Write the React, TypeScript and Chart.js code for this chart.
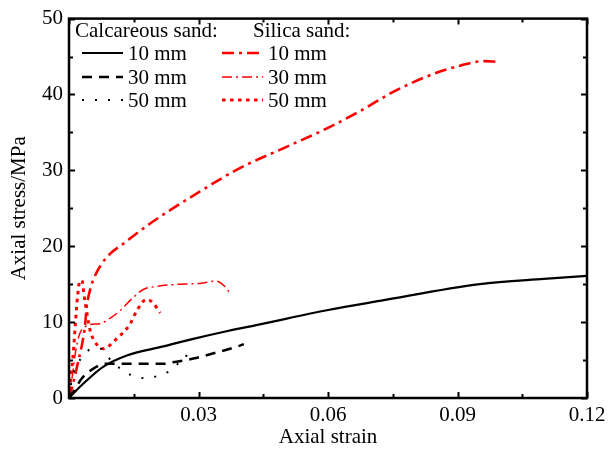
import React, { useEffect, useRef } from "react";
import { Chart, registerables } from "chart.js";

Chart.register(...registerables);

const FONT = "'Liberation Serif', 'Times New Roman', serif";
const FS = 21;

// Calcareous sand
const strainCal10 = [0, 0.001, 0.0041, 0.0079, 0.0134, 0.0211, 0.0288, 0.0365, 0.0442, 0.06, 0.072, 0.0952, 0.11, 0.12];
const stressCal10 = [0, 0.6, 2.3, 4.1, 5.6, 6.7, 7.8, 8.8, 9.7, 11.6, 12.8, 15.0, 15.7, 16.1];
const strainCal30 = [0, 0.001, 0.003, 0.006, 0.0081, 0.0118, 0.0218, 0.024, 0.0288, 0.0342, 0.0396, 0.0405];
const stressCal30 = [0, 0.8, 2.6, 4.0, 4.5, 4.5, 4.5, 4.7, 5.2, 6.0, 6.9, 7.1];
const strainCal50 = [0, 0.0007, 0.002, 0.0034, 0.0053, 0.0073, 0.009, 0.0118, 0.0145, 0.018, 0.021, 0.0234, 0.026, 0.0268, 0.0275];
const stressCal50 = [0, 2.6, 4.5, 5.6, 6.5, 6.5, 5.4, 3.9, 3.0, 2.6, 3.0, 3.6, 5.0, 5.6, 5.5];

// Silica sand
const strainSil10 = [0, 0.001, 0.002, 0.003, 0.0037, 0.0041, 0.005, 0.0061, 0.0076, 0.0095, 0.0125, 0.0188, 0.03, 0.0396, 0.05, 0.06, 0.0674, 0.075, 0.083, 0.0906, 0.096, 0.0994];
const stressSil10 = [0, 2, 4.5, 7, 9.5, 12, 14.5, 16.2, 17.7, 19, 20.3, 23, 27.1, 30.3, 33, 35.6, 37.8, 40.3, 42.4, 43.8, 44.4, 44.3];
const strainSil30 = [0, 0.0008, 0.0015, 0.0025, 0.004, 0.0049, 0.0072, 0.0095, 0.0118, 0.0148, 0.0172, 0.0203, 0.0257, 0.0303, 0.0342, 0.0361, 0.0373];
const stressSil30 = [0, 3, 6, 8.5, 9.5, 9.7, 9.8, 10.5, 11.5, 13.2, 14.3, 14.7, 15.0, 15.1, 15.4, 14.7, 13.8];
const strainSil50 = [0, 0.0005, 0.001, 0.0015, 0.002, 0.0025, 0.003, 0.0035, 0.0042, 0.0049, 0.0065, 0.0079, 0.011, 0.0141, 0.0157, 0.018, 0.0195, 0.0211];
const stressSil50 = [0, 3, 6, 10, 13.5, 15.4, 15.5, 13.5, 11, 8.9, 7, 6.5, 7.8, 9.7, 11.5, 13, 12.5, 11.2];

const groupTitles = ["Calcareous sand:", "Silica sand:"];
const sizeLabels = ["10 mm", "30 mm", "50 mm"];

const xTicks = [0, 0.03, 0.06, 0.09, 0.12];
const yTicks = [0, 10, 20, 30, 40, 50];

const pts = (xs: number[], ys: number[]) => xs.map((x, i) => ({ x, y: ys[i] }));

const styles = [
  { color: "#000000", width: 2.2, dash: [] as number[] },
  { color: "#000000", width: 2.5, dash: [10, 7] },
  { color: "#000000", width: 2, dash: [2, 11] },
  { color: "#ff0000", width: 2.6, dash: [12, 5, 3, 5] },
  { color: "#ff0000", width: 1.5, dash: [10, 4, 2, 4] },
  { color: "#ff0000", width: 3, dash: [3.5, 4.5] },
];

const series = [
  pts(strainCal10, stressCal10),
  pts(strainCal30, stressCal30),
  pts(strainCal50, stressCal50),
  pts(strainSil10, stressSil10),
  pts(strainSil30, stressSil30),
  pts(strainSil50, stressSil50),
];

const framePlugin = {
  id: "frameTicks",
  afterDatasetsDraw(chart: any) {
    const { ctx, chartArea: a, scales } = chart;
    const xs = scales.x;
    const ys = scales.y;
    ctx.save();
    ctx.strokeStyle = "#000";
    ctx.setLineDash([]);
    ctx.lineWidth = 2;
    for (let v = 0; v <= 0.12 + 1e-9; v += 0.015) {
      const major = Math.abs(v / 0.03 - Math.round(v / 0.03)) < 1e-6;
      const len = major ? 6 : 4;
      const px = Math.round(xs.getPixelForValue(v)) + 0.5;
      ctx.beginPath();
      ctx.moveTo(px, a.bottom);
      ctx.lineTo(px, a.bottom - len);
      ctx.moveTo(px, a.top);
      ctx.lineTo(px, a.top + len);
      ctx.stroke();
    }
    for (let v = 0; v <= 50 + 1e-9; v += 5) {
      const major = v % 10 === 0;
      const len = major ? 6 : 4;
      const py = Math.round(ys.getPixelForValue(v)) + 0.5;
      ctx.beginPath();
      ctx.moveTo(a.left, py);
      ctx.lineTo(a.left + len, py);
      ctx.moveTo(a.right, py);
      ctx.lineTo(a.right - len, py);
      ctx.stroke();
    }
    ctx.lineWidth = 2.5;
    ctx.strokeRect(a.left, a.top, a.right - a.left, a.bottom - a.top);

    // legend
    ctx.font = `${FS}px ${FONT}`;
    ctx.fillStyle = "#000";
    ctx.textBaseline = "middle";
    ctx.textAlign = "left";
    const cols = [
      { title: 75, lineX0: 82, lineX1: 123, text: 128 },
      { title: 253, lineX0: 222, lineX1: 263, text: 268 },
    ];
    const rowsY = [53, 77, 100];
    cols.forEach((c, ci) => {
      ctx.fillStyle = "#000";
      ctx.fillText(groupTitles[ci], c.title, 31);
      sizeLabels.forEach((lab, ri) => {
        const st = styles[ci * 3 + ri];
        ctx.save();
        ctx.strokeStyle = st.color;
        ctx.lineWidth = st.width;
        ctx.setLineDash(st.dash);
        ctx.beginPath();
        ctx.moveTo(c.lineX0, rowsY[ri]);
        ctx.lineTo(c.lineX1, rowsY[ri]);
        ctx.stroke();
        ctx.restore();
        ctx.fillStyle = "#000";
        ctx.fillText(lab, c.text, rowsY[ri] + 1);
      });
    });
    ctx.restore();
  },
};

export default function App() {
  const ref = useRef<HTMLCanvasElement | null>(null);
  useEffect(() => {
    if (!ref.current) return;
    const chart = new Chart(ref.current, {
      type: "line",
      data: {
        datasets: series.map((d, i) => ({
          label: `${groupTitles[Math.floor(i / 3)]} ${sizeLabels[i % 3]}`,
          data: d,
          borderColor: styles[i].color,
          borderWidth: styles[i].width,
          borderDash: styles[i].dash,
          pointRadius: 0,
          fill: false,
          cubicInterpolationMode: "monotone",
        })),
      },
      options: {
        animation: false,
        responsive: false,
        maintainAspectRatio: false,
        layout: { padding: { left: 0, top: 14, right: 26, bottom: 0 } },
        plugins: { legend: { display: false }, tooltip: { enabled: false } },
        scales: {
          x: {
            type: "linear",
            min: 0,
            max: 0.12,
            afterBuildTicks: (s: any) => {
              s.ticks = xTicks.map((v) => ({ value: v }));
            },
            afterFit: (s: any) => {
              s.height = 52;
            },
            grid: { display: false, drawTicks: false },
            border: { display: false },
            ticks: {
              padding: 5,
              color: "#000",
              font: { family: FONT, size: FS },
              maxRotation: 0,
              callback: (v: any) => (v === 0 ? "" : Number(v).toFixed(2)),
            },
            title: {
              display: true,
              text: "Axial strain",
              color: "#000",
              font: { family: FONT, size: FS },
              padding: { top: 0, bottom: 0 },
            },
          },
          y: {
            type: "linear",
            min: 0,
            max: 50,
            afterBuildTicks: (s: any) => {
              s.ticks = yTicks.map((v) => ({ value: v }));
            },
            afterFit: (s: any) => {
              s.width = 69;
            },
            grid: { display: false, drawTicks: false },
            border: { display: false },
            ticks: {
              padding: 6,
              color: "#000",
              font: { family: FONT, size: FS },
            },
            title: {
              display: true,
              text: "Axial stress/MPa",
              color: "#000",
              font: { family: FONT, size: FS },
              padding: { top: 7, bottom: 0 },
            },
          },
        },
      },
      plugins: [framePlugin],
    });
    return () => chart.destroy();
  }, []);
  return (
    <div style={{ position: "fixed", left: 0, top: 0, width: 613, height: 450, background: "#fff" }}>
      <canvas ref={ref} width={613} height={450} style={{ display: "block", width: 613, height: 450 }} />
    </div>
  );
}
